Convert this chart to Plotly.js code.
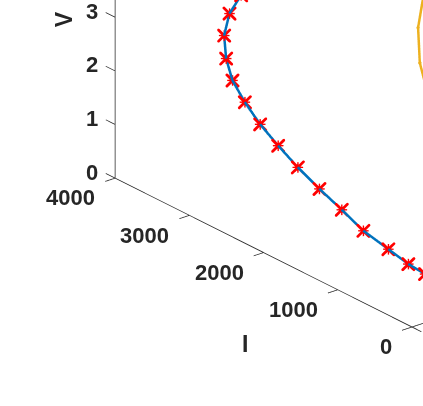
<!DOCTYPE html>
<html><head><meta charset="utf-8">
<script src="https://cdn.plot.ly/plotly-3.0.1.min.js"></script>
<style>html,body{margin:0;padding:0;background:#fff;} #chart{width:423px;height:406px;}</style>
</head><body><div id="chart"></div>
<script>
// data
const blueTemp = 25;
const blueI = [2842, 2999, 3071, 3044, 2959, 2792, 2586, 2343, 2078, 1787, 1486, 1195, 858, 589, 364];
const blueV = [3.97, 3.52, 3.06, 2.65, 2.30, 2.01, 1.74, 1.51, 1.29, 1.09, 0.91, 0.72, 0.61, 0.52, 0.49];
const yellowTemp = 75;
const yellowI = [1455, 1535, 1512, 1401];
const yellowV = [4.49, 3.78, 3.14, 2.62];
const iTicks = [0, 1000, 2000, 3000, 4000];
const vTicks = [0, 1, 2, 3, 4, 5, 6];
const tTicks = [0, 25, 50, 75, 100];

const W = 423, H = 406;
const gd = document.getElementById('chart');
const axCol = '#262626';
const tf = {family: 'Liberation Sans, Arial, sans-serif', size: 22, color: axCol, weight: 'bold'};
const lf = {family: 'Liberation Sans, Arial, sans-serif', size: 23, color: axCol, weight: 'bold'};
const iMin = iTicks[0], iMax = iTicks[iTicks.length - 1];
const tMin = tTicks[0], tMax = tTicks[tTicks.length - 1];
const vMin = vTicks[0], vMax = vTicks[vTicks.length - 1];
const tickI = 127, tickT = 6.2; // tick length (~10px) in I and T units

// MATLAB-style box-off axes: one line per axis, ticks pointing outward
const ax = {x: [], y: [], z: []};
function seg(a, b) { ax.x.push(a[0], b[0], null); ax.y.push(a[1], b[1], null); ax.z.push(a[2], b[2], null); }
seg([iMin, tMin, vMin], [iMax, tMin, vMin]);
seg([iMax, tMin, vMin], [iMax, tMin, vMax]);
seg([iMin, tMin, vMin], [iMin, tMax, vMin]);
iTicks.forEach(v => seg([v, tMin, vMin], [v, tMin - tickT, vMin]));
vTicks.forEach(v => seg([iMax, tMin, v], [iMax + tickI, tMin, v]));
tTicks.forEach(v => seg([iMin, v, vMin], [iMin - tickI, v, vMin]));

function axis(range) {
  return {
    title: {text: ''}, range: range, autorange: false, showline: false, ticks: '', showticklabels: false,
    showgrid: false, showbackground: false, zeroline: false, showspikes: false
  };
}
const tb = blueI.map(() => blueTemp);
const ty = yellowI.map(() => yellowTemp);
const traces = [
  {type: 'scatter3d', mode: 'lines', x: ax.x, y: ax.y, z: ax.z, connectgaps: false, line: {color: axCol, width: 1.5}},
  {type: 'scatter3d', mode: 'markers', x: blueI, y: tb, z: blueV, marker: {symbol: 'x', size: 3.2, color: '#ff0000'}},
  {type: 'scatter3d', mode: 'text', x: blueI, y: tb, z: blueV, text: blueI.map(() => '+'), textposition: 'middle center', textfont: {family: 'DejaVu Sans', size: 17, color: '#ff0000'}},
  {type: 'scatter3d', mode: 'lines', x: blueI, y: tb, z: blueV, line: {color: '#0072BD', width: 5}},
  {type: 'scatter3d', mode: 'lines+markers', x: yellowI, y: ty, z: yellowV, line: {color: '#EDB120', width: 5}, marker: {size: 2, color: '#EDB120'}}
];
const dir = [0.7094, -0.5755, 0.4069];
const center = {x: -0.1957, y: -0.6385, z: -0.6194};
const dist = 2;
const camera = {center: center, eye: {x: center.x + dir[0]*dist, y: center.y + dir[1]*dist, z: center.z + dir[2]*dist}, up: {x: 0, y: 0, z: 1}, projection: {type: 'orthographic'}};
const anns = [];
iTicks.forEach(v => anns.push({x: v, y: tMin, z: vMin, text: String(v), showarrow: false, xanchor: 'right', yanchor: 'middle', xshift: -18, yshift: -19.7, font: tf}));
vTicks.forEach(v => anns.push({x: iMax, y: tMin, z: v, text: String(v), showarrow: false, xanchor: 'right', yanchor: 'middle', xshift: -15.6, yshift: 6, font: tf}));
anns.push({x: iMax, y: tMin, z: (vMin + vMax) / 2, text: 'V', textangle: -90, showarrow: false, xanchor: 'center', yanchor: 'middle', xshift: -51, yshift: -1.8, font: lf});
anns.push({x: (iMin + iMax) / 2, y: tMin, z: vMin, text: 'I', showarrow: false, xanchor: 'center', yanchor: 'middle', xshift: -18.5, yshift: -91.3, font: lf});
const layout = {
  width: W, height: H, margin: {l: 0, r: 0, t: 0, b: 0}, paper_bgcolor: '#fff', showlegend: false, hovermode: false,
  scene: {
    domain: {x: [0, 1], y: [0, 1]}, aspectmode: 'manual', aspectratio: {x: 2.4949, y: 1.0961, z: 1.7343}, camera: camera,
    xaxis: axis([iMax + 150, iMin - 150]),
    yaxis: axis([tMin - 8, tMax]),
    zaxis: axis([vMin, vMax]),
    annotations: anns
  }
};
Plotly.newPlot(gd, traces, layout, {displayModeBar: false});
</script>
</body></html>
